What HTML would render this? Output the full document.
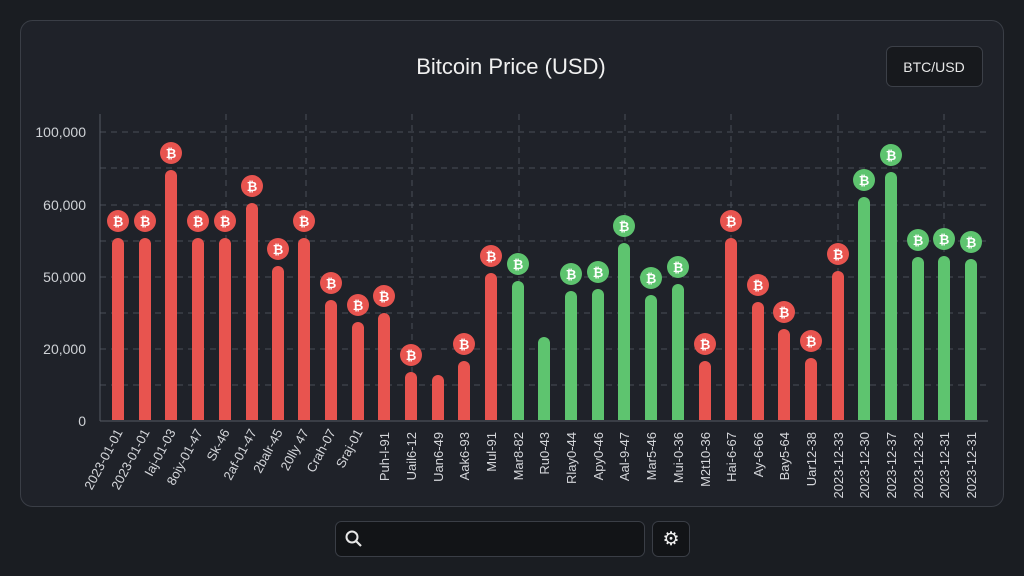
<!DOCTYPE html>
<html><head><meta charset="utf-8"><style>
html,body{margin:0;padding:0;background:#1a1d22;width:1024px;height:576px;overflow:hidden;font-family:"Liberation Sans",sans-serif}
</style></head><body>
<svg width="1024" height="576" xmlns="http://www.w3.org/2000/svg" font-family="Liberation Sans, sans-serif">
<rect width="1024" height="576" fill="#1a1d22"/>
<rect x="20.5" y="20.5" width="983" height="486" rx="12" fill="#1f2229" stroke="#3a3e46"/>
<text x="511" y="74" text-anchor="middle" font-size="22" fill="#f0f0f0">Bitcoin Price (USD)</text>
<rect x="886.5" y="46.5" width="96" height="40" rx="6" fill="#17191d" stroke="#3c4048"/>
<text x="934" y="72" text-anchor="middle" font-size="14" fill="#e8e8e8">BTC/USD</text>
<g stroke="#4a4f58" stroke-dasharray="6,5" stroke-width="1">
<line x1="100" x2="988" y1="132" y2="132"/><line x1="100" x2="988" y1="168" y2="168"/>
<line x1="100" x2="988" y1="205" y2="205"/><line x1="100" x2="988" y1="241" y2="241"/>
<line x1="100" x2="988" y1="277" y2="277"/><line x1="100" x2="988" y1="313" y2="313"/>
<line x1="100" x2="988" y1="349" y2="349"/><line x1="100" x2="988" y1="385" y2="385"/>
<line x1="226" x2="226" y1="114" y2="420"/><line x1="306" x2="306" y1="114" y2="420"/>
<line x1="412" x2="412" y1="114" y2="420"/><line x1="519" x2="519" y1="114" y2="420"/>
<line x1="625" x2="625" y1="114" y2="420"/><line x1="731" x2="731" y1="114" y2="420"/>
<line x1="838" x2="838" y1="114" y2="420"/><line x1="944" x2="944" y1="114" y2="420"/>
</g>
<line x1="100" x2="100" y1="114" y2="421" stroke="#555a63"/>
<line x1="100" x2="988" y1="421" y2="421" stroke="#555a63"/>
<g font-size="14" fill="#cfd2d6" text-anchor="end">
<text x="86" y="137">100,000</text><text x="86" y="210">60,000</text><text x="86" y="282">50,000</text><text x="86" y="354">20,000</text><text x="86" y="426">0</text>
</g>
<g id="bars"></g>
<rect x="335.5" y="521.5" width="309" height="35" rx="6" fill="#121417" stroke="#3a3e46"/>
<circle cx="352" cy="537" r="5.5" fill="none" stroke="#e8e8e8" stroke-width="2"/>
<line x1="356" y1="541" x2="361" y2="546" stroke="#e8e8e8" stroke-width="2.2"/>
<rect x="652.5" y="521.5" width="37" height="35" rx="6" fill="#121417" stroke="#3a3e46"/>
<text x="671" y="545" text-anchor="middle" font-size="19" fill="#f0f0f0">⚙</text>
</svg>
<script>
var xs=[118,145,171,198,225,252,278,304,331,358,384,411,438,464,491,518,544,571,598,624,651,678,705,731,758,784,811,838,864,891,918,944,971];
var tops=[238,238,170,238,238,203,266,238,300,322,313,372,375,361,273,281,337,291,289,243,295,284,361,238,302,329,358,271,197,172,257,256,259];
var labs=["2023-01-01","2023-01-01","Iaj-01-03","8oiy-01-47","Sk-46","2af-01-47","2balr-45","20lly 47","Crah-07","Sraj-01","Puh-l-91","Uail6-12","Uan6-49","Aak6-93","Mul-91","Mar8-82","Ru0-43","Rlay0-44","Apy0-46","Aal-9-47","Mar5-46","Mui-0-36","M2t10-36","Hai-6-67","Ay-6-66","Bay5-64","Uar12-38","2023-12-33","2023-12-30","2023-12-37","2023-12-32","2023-12-31","2023-12-31"];
var noIcon={12:1,16:1};
var s="";
for(var i=0;i<33;i++){
 var g=(i>=15&&i<=21)||i>=28;var c=g?"#5ec46f":"#e8544f";var x=xs[i],t=tops[i];
 s+='<rect x="'+(x-6)+'" y="'+t+'" width="12" height="'+(420-t)+'" rx="6" fill="'+c+'"/><rect x="'+(x-6)+'" y="'+(t+8)+'" width="12" height="'+(412-t)+'" fill="'+c+'"/>';
 if(!noIcon[i]){var cy=t-17;s+='<circle cx="'+x+'" cy="'+cy+'" r="11" fill="'+c+'"/><text x="'+x+'" y="'+(cy+5)+'" text-anchor="middle" font-size="13" font-weight="bold" fill="#fff">₿</text>';}
 if(i<10) s+='<text transform="translate('+(x+5)+',432) rotate(-62)" text-anchor="end" font-size="13" fill="#d4d6da">'+labs[i]+'</text>';
 else s+='<text transform="translate('+(x+5)+',432) rotate(-90)" text-anchor="end" font-size="13" fill="#d4d6da">'+labs[i]+'</text>';
}
document.getElementById("bars").innerHTML=s;
</script>
</body></html>
